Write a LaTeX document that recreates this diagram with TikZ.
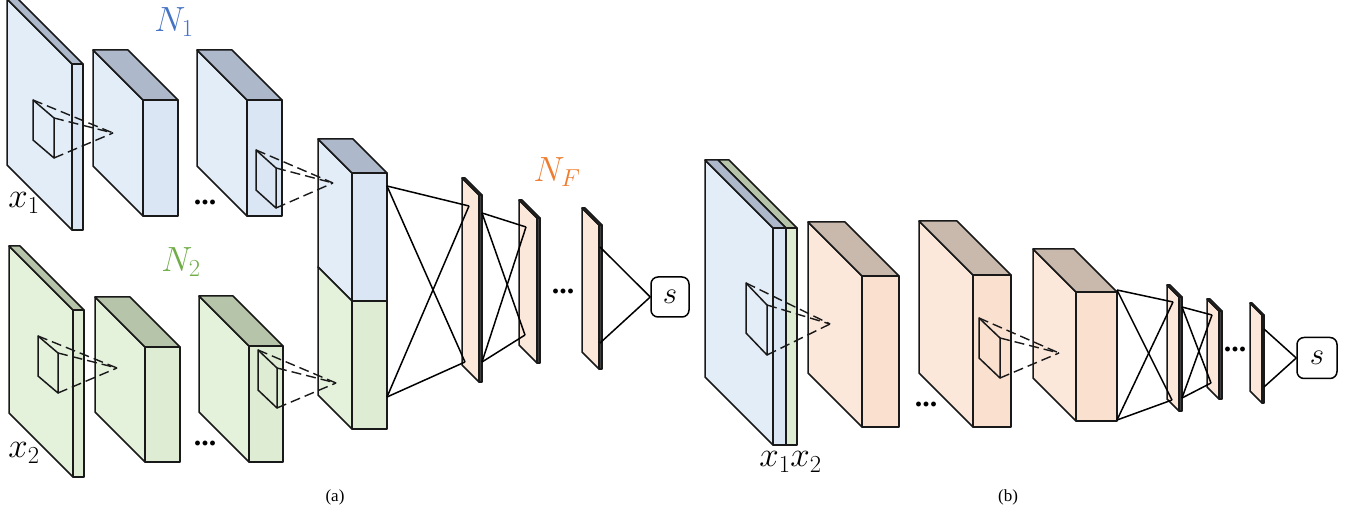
\documentclass[tikz,border=0pt]{standalone}
\usepackage{fix-cm}
\usepackage{fontspec}
\setmainfont{Liberation Serif}
\begin{document}
\begin{tikzpicture}[x=1pt,y=-1pt,line join=round,
  edge/.style={draw=black!90,line width=1.5pt},
  dsh/.style={draw=black!90,line width=1.4pt,dash pattern=on 10pt off 5pt},
  conn/.style={draw=black,line width=1.5pt},
  lbl/.style={inner sep=0pt,font=\fontsize{35}{40}\selectfont},
  dotsl/.style={inner sep=0pt,font=\fontsize{30}{34}\selectfont\bfseries},
  sbox/.style={draw=black,line width=1.5pt,rounded corners=7pt,fill=white,minimum width=38pt,minimum height=40pt,inner sep=0pt,font=\fontsize{31}{36}\selectfont},
  caplbl/.style={inner sep=0pt,font=\fontsize{17}{20}\selectfont}]
\definecolor{bS}{RGB}{227,237,248}\definecolor{bF}{RGB}{218,230,243}\definecolor{bT}{RGB}{173,185,202}
\definecolor{gS}{RGB}{228,241,219}\definecolor{gF}{RGB}{222,236,212}\definecolor{gT}{RGB}{182,197,170}
\definecolor{pS}{RGB}{252,232,218}\definecolor{pF}{RGB}{250,224,207}\definecolor{pT}{RGB}{201,184,172}
\definecolor{nblue}{RGB}{68,114,196}\definecolor{ngreen}{RGB}{112,173,71}\definecolor{norange}{RGB}{237,125,49}
\useasboundingbox (0,0) rectangle (1353,521);
% box macro: xa xb ya yb d side front top
\newcommand\mybox[8]{%
  \filldraw[edge,fill=#6] (#1,#3) -- ++(-#5,-#5) -- ({#1-#5},{#4-#5}) -- (#1,#4) -- cycle;
  \filldraw[edge,fill=#8] (#1,#3) -- ++(-#5,-#5) -- ({#2-#5},{#3-#5}) -- (#2,#3) -- cycle;
  \filldraw[edge,fill=#7] (#1,#3) rectangle (#2,#4);}
\newcommand\myplate[5]{%
  \filldraw[edge,fill=pS] (#1,#3) -- ++(-#5,-#5) -- ({#1-#5},{#4-#5}) -- (#1,#4) -- cycle;
  \filldraw[edge,fill=black!75] (#1,#3) -- ++(-#5,-#5) -- ({#2-#5},{#3-#5}) -- (#2,#3) -- cycle;
  \filldraw[edge,fill=black!75] (#1,#3) rectangle (#2,#4);}
\newcommand\mykernel[7]{%
  \draw[edge] (#1,#2) -- (#3,#4) -- (#3,{#4+#5}) -- (#1,{#2+#5}) -- cycle;
  \draw[dsh] (#1,#2) -- (#6,#7);
  \draw[dsh] (#3,#4) -- (#6,#7);
  \draw[dsh] (#3,{#4+#5}) -- (#6,#7);}
% ---------- (a) top row
\mybox{72}{83}{64}{230}{65}{bS}{bF}{bT}
\mybox{143}{178}{100}{216}{50}{bS}{bF}{bT}
\mybox{247}{282}{100}{216}{50}{bS}{bF}{bT}
% ---------- (a) bottom row
\mybox{73}{84}{310}{477}{64}{gS}{gF}{gT}
\mybox{145}{180}{347}{462}{50}{gS}{gF}{gT}
\mybox{249}{283}{346}{462}{50}{gS}{gF}{gT}
% ---------- merged block
\filldraw[edge,fill=bS] (352,173) -- (318,139) -- (318,267) -- (352,301) -- cycle;
\filldraw[edge,fill=gS] (352,301) -- (318,267) -- (318,395) -- (352,429) -- cycle;
\filldraw[edge,fill=bT] (352,173) -- (318,139) -- (353,139) -- (387,173) -- cycle;
\filldraw[edge,fill=bF] (352,173) rectangle (387,301);
\filldraw[edge,fill=gF] (352,301) rectangle (387,429);
% ---------- FC plates (a)
\myplate{479}{482}{195}{382}{17}
\myplate{537}{540}{218}{363}{18}
\myplate{599}{602}{225}{369}{17}
% ---------- kernels (a)
\mykernel{33}{100}{54}{118}{40}{113}{133}
\mykernel{256}{150}{276}{168}{40}{333}{183}
\mykernel{38}{336}{58}{353}{40}{117}{368}
\mykernel{258}{350}{277}{368}{40}{336}{383}
% ---------- (b)
\mybox{786}{797}{228}{445}{68}{gS}{gF}{gT}
\mybox{773}{786}{228}{445}{68}{bS}{bF}{bT}
\mybox{862}{899}{276}{427}{54}{pS}{pF}{pT}
\mybox{973}{1011}{275}{427}{54}{pS}{pF}{pT}
\mybox{1076}{1117}{292}{421}{43}{pS}{pF}{pT}
\myplate{1179}{1182}{297}{411}{12}
\myplate{1219}{1222}{311}{399}{12}
\myplate{1262}{1264}{315}{403}{12}
\mykernel{746}{283}{767}{305}{50}{830}{324}
\mykernel{979}{318}{1000}{338}{40}{1059}{353}
% ---------- s nodes
\node[sbox] (sa) at (670,297) {$s$};
\node[sbox,minimum width=40pt,minimum height=41pt] (sb) at (1317,358) {$s$};
% ---------- connectors (a)
\coordinate (mT) at (387,186); \coordinate (mB) at (387,397);
\coordinate (f1T) at (469,206); \coordinate (f1B) at (465,362);
\coordinate (f1oT) at (482,213); \coordinate (f1oB) at (482,362);
\coordinate (f2T) at (526,227); \coordinate (f2B) at (525,335);
\coordinate (f3T) at (600,247); \coordinate (f3B) at (600,343);
\draw[conn] (mT) -- (f1T); \draw[conn] (mT) -- (f1B);
\draw[conn] (mB) -- (f1B); \draw[conn] (mB) -- (f1T);
\draw[conn] (f1oT) -- (f2T); \draw[conn] (f1oT) -- (f2B);
\draw[conn] (f1oB) -- (f2B); \draw[conn] (f1oB) -- (f2T);
\draw[conn] (f3T) -- (sa.west); \draw[conn] (f3B) -- (sa.west);
% ---------- connectors (b)
\coordinate (pT) at (1117,290); \coordinate (pB) at (1117,420);
\coordinate (g1T) at (1173,302); \coordinate (g1B) at (1172,400);
\coordinate (g1oT) at (1182,307); \coordinate (g1oB) at (1182,398);
\coordinate (g2T) at (1212,315); \coordinate (g2B) at (1211,383);
\coordinate (g3T) at (1264,329); \coordinate (g3B) at (1264,387);
\draw[conn] (pT) -- (g1T); \draw[conn] (pT) -- (g1B);
\draw[conn] (pB) -- (g1B); \draw[conn] (pB) -- (g1T);
\draw[conn] (g1oT) -- (g2T); \draw[conn] (g1oT) -- (g2B);
\draw[conn] (g1oB) -- (g2B); \draw[conn] (g1oB) -- (g2T);
\draw[conn] (g3T) -- (sb.west); \draw[conn] (g3B) -- (sb.west);
% ---------- labels
\node[lbl,text=nblue] (n1) at (174,22) {$N_1$};
\node[lbl,text=ngreen] (n2) at (181,262) {$N_2$};
\node[lbl,text=norange] (nf) at (557,172) {$N_F$};
\node[lbl] (xa1) at (24,203) {$x_1$};
\node[lbl] (xa2) at (24,453) {$x_2$};
\node[lbl] (xb1) at (775,462) {$x_1$};
\node[lbl] (xb2) at (806,462) {$x_2$};
\node[dotsl] (d1) at (205,202) {...};
\node[dotsl] (d2) at (205,443) {...};
\node[dotsl] (d3) at (563,291) {...};
\node[dotsl] (d4) at (926,404) {...};
\node[dotsl] (d5) at (1235,349) {...};
\node[caplbl] (ca) at (335,497) {(a)};
\node[caplbl] (cb) at (1008,497) {(b)};
\end{tikzpicture}
\end{document}
